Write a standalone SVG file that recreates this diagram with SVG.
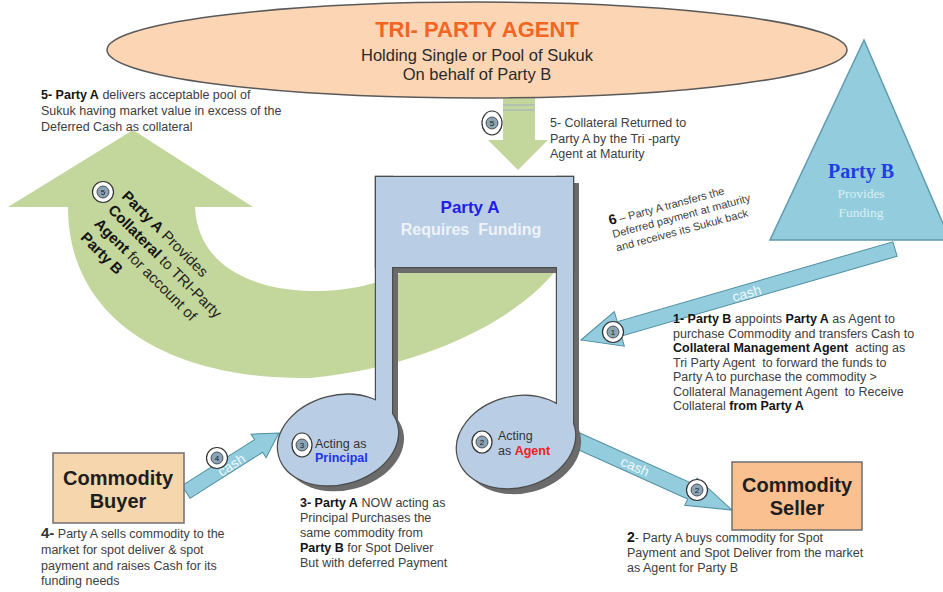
<svg xmlns="http://www.w3.org/2000/svg" width="943" height="592" viewBox="0 0 943 592">
<defs>
<style>
text{font-family:"Liberation Sans",Arial,sans-serif}
.t{font-size:12.5px;fill:#3d3d3d}
.b{font-weight:bold;fill:#141414}
.cash{fill:#93cddd;stroke:#4e8ea2;stroke-width:1}
.cl{font-size:14px;fill:#eef8fb;text-anchor:middle}
.bo{fill:#fff;stroke:#333;stroke-width:1.2}
.bi{fill:#8aa3b6;stroke:#333;stroke-width:.8}
.bn{font-size:8px;fill:#1a1a1a;text-anchor:middle}
.green{fill:#c3d69b}
.box{stroke:#6f6f6f;stroke-width:1.5}
.bt{font-size:20px;font-weight:bold;fill:#1e1e1e;text-anchor:middle}
</style>
<g id="noteShapes">
<rect x="376" y="177" width="197" height="90"/>
<rect x="376" y="177" width="16" height="270"/>
<rect x="557" y="177" width="16" height="268"/>
<ellipse cx="338" cy="440" rx="61" ry="44" transform="rotate(-15 338 440)"/>
<ellipse cx="516" cy="442" rx="60" ry="45" transform="rotate(-15 516 442)"/>
</g>
</defs>
<rect width="943" height="592" fill="#fff"/>

<g id="connectors">
<!-- big green U-turn arrow -->
<path class="green" d="M133,130 L253,207 L195,207 C198,270 260,292 320,291 C360,290 392,280 420,262 L560,200 L562,262 C530,310 440,365 310,378 C170,380 68,320 68,207 L8,207 Z"/>
<g transform="translate(103,192)"><circle class="bo" r="10.5"/><circle class="bi" r="6"/><text class="bn" y="3">5</text></g>
<text transform="translate(121,197) rotate(45)" style="font-size:15px;fill:#222">
<tspan x="0" y="0"><tspan class="b">Party A</tspan> Provides</tspan>
<tspan x="0" y="19.5"><tspan class="b">Collateral</tspan> to TRI-Party</tspan>
<tspan x="0" y="39"><tspan class="b">Agent</tspan> for account of</tspan>
<tspan x="0" y="58.5"><tspan class="b">Party B</tspan></tspan>
</text>
<!-- green down arrow -->
<polygon class="green" points="503,90 535,90 535,140 548,140 518,170 488,140 503,140"/>
<line x1="503" y1="105" x2="535" y2="105" stroke="#9fb0c4" stroke-width="1"/>
<line x1="503" y1="110" x2="535" y2="110" stroke="#9fb0c4" stroke-width="1"/>
<g transform="translate(492,123)"><ellipse class="bo" rx="10" ry="12"/><circle class="bi" r="6"/><text class="bn" y="3">5</text></g>

<!-- cash arrow 1: Party B to Party A -->
<polygon class="cash" transform="translate(895,249) rotate(163.84)" points="0,-7.5 287,-7.5 287,-18 327,0 287,18 287,7.5 0,7.5"/>
<text class="cl" transform="translate(748,298) rotate(-16)">cash</text>
<g transform="translate(613,332)"><circle class="bo" r="10.5"/><circle class="bi" r="6"/><text class="bn" y="3">1</text></g>

<!-- cash arrow 2: Party A (agent) to Commodity Seller -->
<polygon class="cash" transform="translate(576,440) rotate(24.2)" points="0,-8 126,-8 126,-15 171,0 126,15 126,8 0,8"/>
<text class="cl" transform="translate(633,471) rotate(24.2)">cash</text>
<g transform="translate(697,490)"><circle class="bo" r="10.5"/><circle class="bi" r="6"/><text class="bn" y="3">2</text></g>

<!-- cash arrow 4: Commodity Buyer to Party A (principal) -->
<polygon class="cash" transform="translate(186,492) rotate(-32.4)" points="0,-7.5 86,-7.5 86,-14 110,0 86,14 86,7.5 0,7.5"/>
<text class="cl" transform="translate(234,469) rotate(-32.4)">cash</text>
<g transform="translate(217,458)"><circle class="bo" r="10.5"/><circle class="bi" r="6"/><text class="bn" y="3">4</text></g>
</g>

<g id="triParty">
<ellipse cx="477" cy="50" rx="370" ry="48" fill="#fcd5b4" stroke="#595959" stroke-width="1.5"/>
<text x="477" y="37" text-anchor="middle" style="font-size:22px;font-weight:bold;fill:#f26522">TRI- PARTY AGENT</text>
<text x="477" y="61" text-anchor="middle" style="font-size:16.5px;fill:#2a2a2a">Holding Single or Pool of Sukuk</text>
<text x="477" y="80" text-anchor="middle" style="font-size:16.5px;fill:#2a2a2a">On behalf of Party B</text>
</g>

<g id="partyB">
<polygon points="864,40 770,240 950,240" fill="#93cddd" stroke="#5f9ab0" stroke-width="1.5"/>
<text x="861" y="178" text-anchor="middle" style="font-family:'Liberation Serif',serif;font-size:20px;font-weight:bold;fill:#1f3fe0">Party B</text>
<text x="861" y="198" text-anchor="middle" style="font-family:'Liberation Serif',serif;font-size:13.5px;fill:#d9eff5">Provides</text>
<text x="861" y="217" text-anchor="middle" style="font-family:'Liberation Serif',serif;font-size:13.5px;fill:#d9eff5">Funding</text>
</g>

<g id="partyA">
<use href="#noteShapes" transform="translate(6,6)" fill="#6b6b6b"/>
<use href="#noteShapes" fill="#b9cde5" stroke="#4d4d4d" stroke-width="2.4"/>
<use href="#noteShapes" fill="#b9cde5"/>
<text x="470" y="213" text-anchor="middle" style="font-size:17px;font-weight:bold;fill:#1f1fe6">Party A</text>
<text x="471" y="235" text-anchor="middle" style="font-size:16px;font-weight:bold;fill:#eef3fa">Requires&#160; Funding</text>
<g transform="translate(302,445)"><ellipse class="bo" rx="10" ry="12"/><circle class="bi" r="6"/><text class="bn" y="3">3</text></g>
<text class="t" x="315" y="448" style="fill:#333">Acting as</text>
<text x="315" y="462" style="font-size:12.5px;font-weight:bold;fill:#2233ee">Principal</text>
<g transform="translate(482,442)"><ellipse class="bo" rx="10" ry="11"/><circle class="bi" r="6"/><text class="bn" y="3">2</text></g>
<text class="t" x="498" y="440" style="fill:#333">Acting</text>
<text class="t" x="498" y="455" style="fill:#333">as <tspan style="font-weight:bold;fill:#f02020">Agent</tspan></text>
</g>

<g id="buyer">
<rect class="box" x="53" y="453" width="131" height="70" fill="#f5d6ad"/>
<text class="bt" x="118" y="485">Commodity</text>
<text class="bt" x="118" y="508">Buyer</text>
</g>

<g id="seller">
<rect class="box" x="732" y="462" width="130" height="68" fill="#fac090"/>
<text class="bt" x="797" y="492">Commodity</text>
<text class="bt" x="797" y="515">Seller</text>
</g>

<g id="notes">
<text class="t" x="41" y="99"><tspan class="b">5- Party A</tspan> delivers acceptable pool of</text>
<text class="t" x="41" y="115">Sukuk having market value in excess of the</text>
<text class="t" x="41" y="131">Deferred Cash as collateral</text>

<text class="t" x="550" y="127">5- Collateral Returned to</text>
<text class="t" x="550" y="143">Party A by the Tri -party</text>
<text class="t" x="550" y="158">Agent at Maturity</text>

<text transform="translate(610,225) rotate(-15)" style="font-size:11px;fill:#3d3d3d">
<tspan x="0" y="0"><tspan style="font-size:14px;font-weight:bold;fill:#141414">6</tspan> – Party A transfers the</tspan>
<tspan x="0" y="13.5">Deferred payment at maturity</tspan>
<tspan x="0" y="27.5">and receives its Sukuk back</tspan>
</text>

<text class="t" x="673" y="323"><tspan class="b">1- Party B</tspan> appoints <tspan class="b">Party A</tspan> as Agent to</text>
<text class="t" x="673" y="337.5">purchase Commodity and transfers Cash to</text>
<text class="t" x="673" y="352"><tspan class="b">Collateral Management Agent</tspan>&#160; acting as</text>
<text class="t" x="673" y="366.5">Tri Party Agent&#160; to forward the funds to</text>
<text class="t" x="673" y="381">Party A to purchase the commodity &gt;</text>
<text class="t" x="673" y="395.5">Collateral Management Agent&#160; to Receive</text>
<text class="t" x="673" y="410">Collateral <tspan class="b">from Party A</tspan></text>

<text class="t" x="300" y="507"><tspan class="b">3- Party A</tspan> NOW acting as</text>
<text class="t" x="300" y="522">Principal Purchases the</text>
<text class="t" x="300" y="537">same commodity from</text>
<text class="t" x="300" y="552"><tspan class="b">Party B</tspan> for Spot Deliver</text>
<text class="t" x="300" y="567">But with deferred Payment</text>

<text class="t" x="41" y="538"><tspan style="font-size:15px;font-weight:bold;fill:#333">4-</tspan> Party A sells commodity to the</text>
<text class="t" x="41" y="554">market for spot deliver &amp; spot</text>
<text class="t" x="41" y="570">payment and raises Cash for its</text>
<text class="t" x="41" y="585">funding needs</text>

<text class="t" x="627" y="542"><tspan style="font-size:14px;font-weight:bold;fill:#141414">2</tspan>- Party A buys commodity for Spot</text>
<text class="t" x="627" y="557">Payment and Spot Deliver from the market</text>
<text class="t" x="627" y="572">as Agent for Party B</text>
</g>
</svg>
